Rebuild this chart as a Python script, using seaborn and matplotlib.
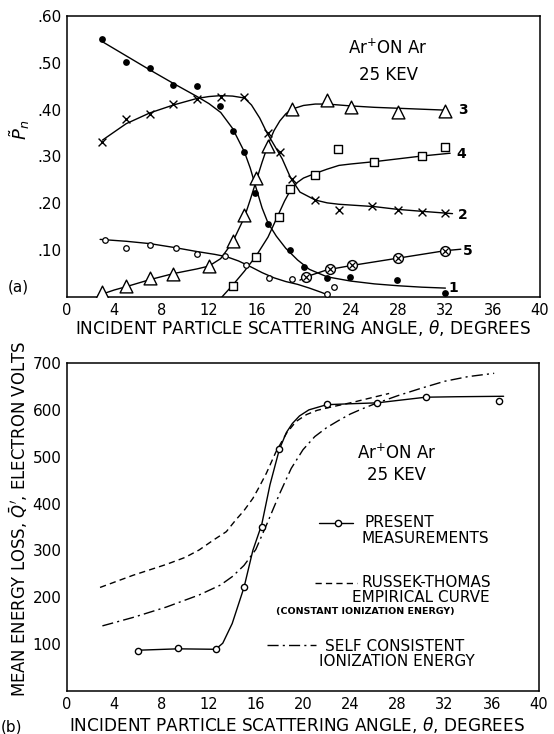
import matplotlib
matplotlib.use("Agg")
import matplotlib.pyplot as plt
from matplotlib.lines import Line2D
import seaborn as sns

# ---------------- panel (a): fractions P_n vs scattering angle ----------------
# measured points, one array pair per charge state
theta_0 = [3.2, 5, 7, 9.2, 11, 13.4, 15.1, 17.1, 19, 22.6, 22]
p_0 = [0.122, 0.104, 0.111, 0.104, 0.092, 0.088, 0.069, 0.041, 0.038, 0.021, 0.006]

theta_1 = [3, 5, 7, 9, 11, 12.9, 14, 15, 15.9, 17, 18.9, 20, 22, 23.9, 27.9, 32]
p_1 = [0.551, 0.501, 0.488, 0.452, 0.450, 0.408, 0.354, 0.309, 0.223, 0.156,
       0.100, 0.065, 0.040, 0.042, 0.036, 0.008]

theta_2 = [3, 5, 7, 9, 11, 13, 15, 17, 18, 19, 21, 23, 25.8, 28, 30, 32]
p_2 = [0.330, 0.381, 0.390, 0.412, 0.423, 0.428, 0.427, 0.351, 0.310, 0.251,
       0.207, 0.186, 0.194, 0.186, 0.182, 0.179]

theta_3 = [3, 5, 7, 9, 12, 14, 15, 16, 17, 19, 22, 24, 28, 32]
p_3 = [0.010, 0.023, 0.041, 0.050, 0.066, 0.119, 0.175, 0.254, 0.323, 0.401,
       0.421, 0.405, 0.396, 0.398]

theta_4 = [14, 16, 17.9, 18.9, 21, 22.9, 26, 30, 32]
p_4 = [0.024, 0.086, 0.171, 0.230, 0.260, 0.316, 0.288, 0.302, 0.320]

theta_5 = [20.2, 22.2, 24.1, 28, 32]
p_5 = [0.042, 0.059, 0.068, 0.084, 0.099]

# hand-faired curves through each charge state
curve0_t = [2.8, 5, 7, 9, 11, 12.5, 13.5, 14.5, 15.5, 16.5, 17.5, 18.5, 19.5, 20.5, 21.5, 22]
curve0_p = [0.123, 0.119, 0.114, 0.106, 0.097, 0.091, 0.086, 0.077, 0.065, 0.052,
            0.041, 0.033, 0.027, 0.019, 0.010, 0.005]

curve1_t = [3, 5, 7, 9, 11, 12, 13, 14, 15, 15.5, 16, 16.5, 17, 17.7, 18.5, 19.5,
            20.5, 22, 24, 26, 28, 30, 32]
curve1_p = [0.545, 0.515, 0.485, 0.456, 0.428, 0.413, 0.394, 0.360, 0.310, 0.275,
            0.232, 0.190, 0.158, 0.130, 0.104, 0.079, 0.059, 0.043, 0.034, 0.028,
            0.024, 0.021, 0.019]

curve2_t = [3, 5, 7, 9, 11, 12, 13, 14, 15, 15.6, 16.3, 16.9, 17.6, 18.2, 18.9,
            19.7, 21, 22, 23, 26, 28, 30, 32.6]
curve2_p = [0.335, 0.370, 0.393, 0.410, 0.424, 0.428, 0.430, 0.429, 0.425, 0.410,
            0.382, 0.351, 0.321, 0.295, 0.255, 0.224, 0.207, 0.201, 0.198, 0.193,
            0.187, 0.183, 0.178]

curve3_t = [2.6, 4, 5, 7, 9, 11, 12, 13, 14, 15, 15.5, 16, 16.5, 17, 17.5, 18,
            18.5, 19, 20, 21, 22, 24, 26, 28, 30, 32]
curve3_p = [0.003, 0.015, 0.022, 0.037, 0.050, 0.060, 0.066, 0.082, 0.117, 0.170,
            0.208, 0.248, 0.288, 0.325, 0.355, 0.376, 0.391, 0.401, 0.409, 0.412,
            0.412, 0.408, 0.405, 0.403, 0.401, 0.399]

curve4_t = [13.1, 14, 15, 16, 17, 17.8, 18.4, 18.9, 19.5, 20, 21, 22, 23, 24, 26,
            28, 30, 32.4]
curve4_p = [0.0, 0.025, 0.055, 0.088, 0.128, 0.172, 0.205, 0.228, 0.245, 0.254,
            0.264, 0.273, 0.281, 0.284, 0.289, 0.295, 0.301, 0.307]

curve5_t = [19.7, 20.2, 22, 24, 26, 28, 30, 32, 33.3]
curve5_p = [0.036, 0.043, 0.058, 0.067, 0.075, 0.083, 0.091, 0.099, 0.102]

# curve tags: label, angle, P_n
tag_text = ["1", "2", "3", "4", "5"]
tag_theta = [32.7, 33.5, 33.45, 33.3, 33.9]
tag_p = [0.019, 0.175, 0.400, 0.306, 0.099]

p_ticks = [0.1, 0.2, 0.3, 0.4, 0.5, 0.6]
p_ticklabels = [".10", ".20", ".30", ".40", ".50", ".60"]

# ---------------- panel (b): mean energy loss vs scattering angle ----------------
meas_theta = [6, 9.4, 12.6, 15, 16.5, 18, 22, 26.3, 30.4, 36.6]
meas_q = [86, 91, 89, 221, 351, 516, 612, 614, 627, 619]

meas_curve_t = [6, 9.4, 12.6, 13.2, 14, 15, 15.75, 16.5, 17.2, 18, 18.6, 19.1,
                19.7, 20.5, 22, 24, 26.3, 28, 30.4, 33, 37]
meas_curve_q = [87, 90, 89, 102, 144, 221, 300, 355, 440, 516, 552, 571, 587,
                600, 611, 613, 615, 620, 627, 628, 629]

rt_t = [2.8, 5.6, 8.4, 10, 11.2, 12.4, 13.5, 14.3, 15, 15.75, 16.3, 16.9, 17.7,
        18.6, 19.4, 20.3, 21.2, 22.2, 24.2, 25.5, 27.3]
rt_q = [221, 247, 270, 285, 301, 322, 340, 365, 385, 411, 436, 465, 510, 550,
        575, 590, 599, 605, 616, 624, 635]

sc_t = [3, 5.6, 8.4, 11.2, 13, 14, 15, 16, 17, 18, 19, 20, 21, 22, 23, 24, 25,
        26, 27, 28, 30, 32, 34, 36.2]
sc_q = [139, 157, 179, 205, 226, 244, 268, 302, 360, 420, 475, 515, 543, 562,
        577, 591, 602, 612, 621, 630, 646, 661, 671, 678]

q_ticks = [100, 200, 300, 400, 500, 600, 700]
theta_ticks = list(range(0, 41, 4))

# ---------------- figure ----------------
sns.set_style("white")
ink = "black"
plt.rcParams["font.family"] = ["DejaVu Sans"]
plt.rcParams["mathtext.fontset"] = "dejavusans"
plt.rcParams["text.color"] = ink
plt.rcParams["axes.labelcolor"] = ink
plt.rcParams["xtick.color"] = ink
plt.rcParams["ytick.color"] = ink

W, H = 554, 734
fig = plt.figure(figsize=(W / 100, H / 100), dpi=100)
ax_a = fig.add_axes([67 / W, 1 - 297 / H, 473 / W, 281 / H])
ax_b = fig.add_axes([67 / W, 1 - 691 / H, 472 / W, 328 / H])

lw = 1.0


def line(ax, x, y, **kw):
    sns.lineplot(x=x, y=y, ax=ax, color=ink, lw=kw.pop("lw", lw), sort=False,
                 estimator=None, **kw)


# panel (a) curves
for cx, cy in [(curve0_t, curve0_p), (curve1_t, curve1_p), (curve2_t, curve2_p),
               (curve3_t, curve3_p), (curve4_t, curve4_p), (curve5_t, curve5_p)]:
    line(ax_a, cx, cy)

# panel (a) markers
sns.scatterplot(x=theta_0, y=p_0, ax=ax_a, marker="o", s=16, facecolor="white",
                edgecolor=ink, linewidth=0.9, zorder=3)
sns.scatterplot(x=theta_1, y=p_1, ax=ax_a, marker="o", s=24, color=ink,
                edgecolor=ink, linewidth=0, zorder=3)
sns.scatterplot(x=theta_2, y=p_2, ax=ax_a, marker="x", s=32, color=ink,
                linewidth=1.0, zorder=3)
sns.scatterplot(x=theta_3, y=p_3, ax=ax_a, marker="^", s=85, facecolor="white",
                edgecolor=ink, linewidth=1.0, zorder=3)
sns.scatterplot(x=theta_4, y=p_4, ax=ax_a, marker="s", s=26, facecolor="white",
                edgecolor=ink, linewidth=1.0, zorder=3)
sns.scatterplot(x=theta_5, y=p_5, ax=ax_a, marker="o", s=50, facecolor="white",
                edgecolor=ink, linewidth=1.0, zorder=3)
sns.scatterplot(x=theta_5, y=p_5, ax=ax_a, marker="x", s=20, color=ink,
                linewidth=0.9, zorder=4)

for t, x, y in zip(tag_text, tag_theta, tag_p):
    ax_a.text(x, y, t, ha="center", va="center", fontsize=10, fontweight="bold")

ax_a.text(0.679, 0.885, r"Ar$^{+}$ON Ar", transform=ax_a.transAxes, ha="center",
          va="center", fontsize=12)
ax_a.text(0.679, 0.790, "25 KEV", transform=ax_a.transAxes, ha="center",
          va="center", fontsize=12)

ax_a.set_xlim(0, 40)
ax_a.set_ylim(0, 0.6)
ax_a.set_xticks(theta_ticks)
ax_a.set_xticklabels([str(t) for t in theta_ticks])
ax_a.set_yticks(p_ticks)
ax_a.set_yticklabels(p_ticklabels)
ax_a.set_xlabel("INCIDENT PARTICLE SCATTERING ANGLE, $\\theta$, DEGREES",
                fontsize=12.2)
ax_a.xaxis.set_label_coords(0.498, -0.110)
ax_a.xaxis.label.set_va("center")
ax_a.set_ylabel(r"$\tilde{P}_n$", fontsize=13, rotation=90)
ax_a.yaxis.set_label_coords(-0.099, 0.594)
ax_a.yaxis.label.set_va("center")

# panel (b) curves
line(ax_b, meas_curve_t, meas_curve_q)
line(ax_b, rt_t, rt_q, linestyle=(0, (4.5, 3.0)))
line(ax_b, sc_t, sc_q, linestyle=(0, (8.0, 3.0, 1.5, 3.0)))
sns.scatterplot(x=meas_theta, y=meas_q, ax=ax_b, marker="o", s=20,
                facecolor="white", edgecolor=ink, linewidth=1.0, zorder=3)

ax_b.text(0.699, 0.725, r"Ar$^{+}$ON Ar", transform=ax_b.transAxes, ha="center",
          va="center", fontsize=12)
ax_b.text(0.699, 0.659, "25 KEV", transform=ax_b.transAxes, ha="center",
          va="center", fontsize=12)

# legend keys
tr = ax_b.transAxes
ax_b.add_line(Line2D([0.534, 0.606], [0.513, 0.513], transform=tr, color=ink, lw=lw))
ax_b.add_line(Line2D([0.574], [0.513], transform=tr, color=ink, marker="o",
                     markersize=4.5, markerfacecolor="white", markeredgewidth=1.0))
ax_b.add_line(Line2D([0.525, 0.614], [0.330, 0.330], transform=tr, color=ink, lw=lw,
                     linestyle=(0, (4.5, 3.0))))
ax_b.add_line(Line2D([0.423, 0.528], [0.140, 0.140], transform=tr, color=ink, lw=lw,
                     linestyle=(0, (8.0, 3.0, 1.5, 3.0))))

leg_fs = 11
ax_b.text(0.631, 0.513, "PRESENT", transform=tr, ha="left", va="center", fontsize=leg_fs)
ax_b.text(0.624, 0.466, "MEASUREMENTS", transform=tr, ha="left", va="center", fontsize=leg_fs)
ax_b.text(0.624, 0.330, "RUSSEK-THOMAS", transform=tr, ha="left", va="center", fontsize=leg_fs)
ax_b.text(0.603, 0.284, "EMPIRICAL CURVE", transform=tr, ha="left", va="center", fontsize=leg_fs)
ax_b.text(0.443, 0.242, "(CONSTANT IONIZATION ENERGY)", transform=tr, ha="left",
          va="center", fontsize=6.8, fontweight="bold")
ax_b.text(0.547, 0.137, "SELF CONSISTENT", transform=tr, ha="left", va="center", fontsize=leg_fs)
ax_b.text(0.534, 0.089, "IONIZATION ENERGY", transform=tr, ha="left", va="center", fontsize=leg_fs)

ax_b.set_xlim(0, 40)
ax_b.set_ylim(0, 700)
ax_b.set_xticks(theta_ticks)
ax_b.set_xticklabels([str(t) for t in theta_ticks])
ax_b.set_yticks(q_ticks)
ax_b.set_yticklabels([str(q) for q in q_ticks])
ax_b.set_xlabel("INCIDENT PARTICLE SCATTERING ANGLE, $\\theta$, DEGREES",
                fontsize=12.2)
ax_b.xaxis.set_label_coords(0.487, -0.1037)
ax_b.xaxis.label.set_va("center")
ax_b.set_ylabel(r"MEAN ENERGY LOSS, $\bar{Q}^{\prime}$, ELECTRON VOLTS", fontsize=11.9)
ax_b.yaxis.set_label_coords(-0.103, 0.524)
ax_b.yaxis.label.set_va("center")

for ax in (ax_a, ax_b):
    for s in ax.spines.values():
        s.set_visible(True)
        s.set_color(ink)
        s.set_linewidth(1.1)
    ax.tick_params(axis="both", direction="in", length=9, width=1.0, color=ink,
                   labelcolor=ink)
    ax.tick_params(axis="x", labelsize=10.5, pad=4)
    ax.tick_params(axis="y", labelsize=11, pad=4)
    ax.grid(False)

fig.text(18 / W, 1 - 287 / H, "(a)", ha="center", va="center", fontsize=11)
fig.text(12 / W, 1 - 727 / H, "(b)", ha="center", va="center", fontsize=11)

fig.savefig("out.png", dpi=100, facecolor="white")
